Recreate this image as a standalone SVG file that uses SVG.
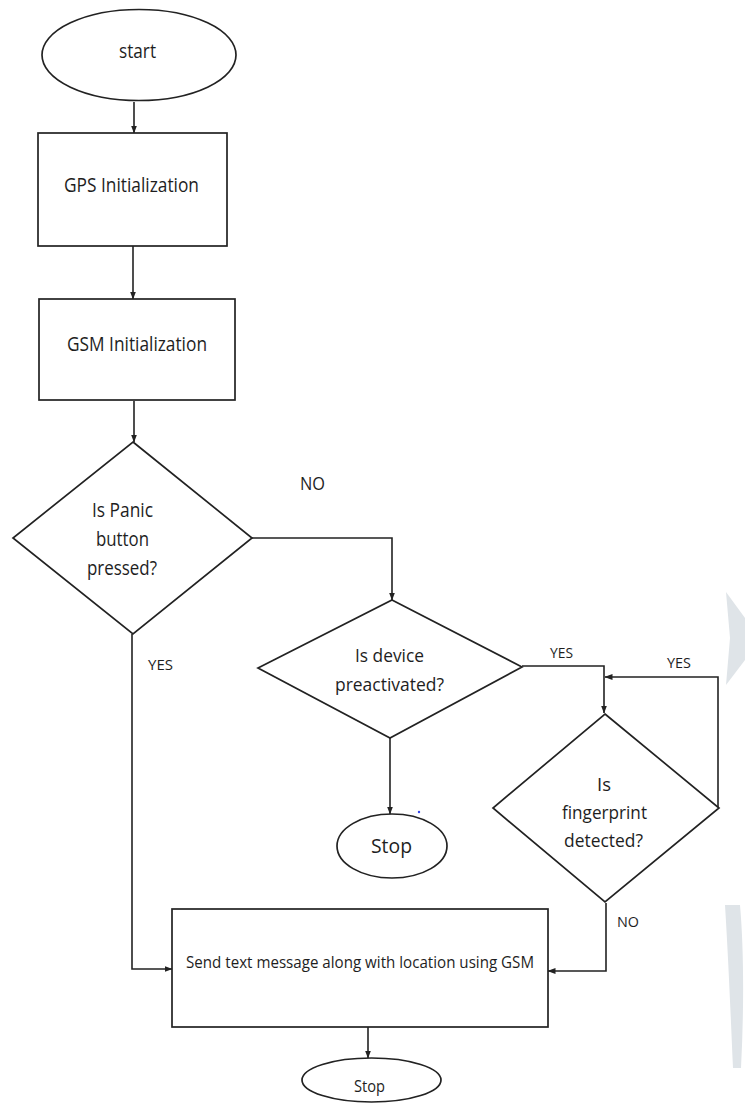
<svg xmlns="http://www.w3.org/2000/svg" width="745" height="1108" viewBox="0 0 745 1108">
<style>
.shape{fill:#ffffff;stroke:#222222;stroke-width:1.7}
.conn{fill:none;stroke:#222222;stroke-width:1.6}
.t{font-family:"Open Sans","Noto Sans","DejaVu Sans",sans-serif;fill:#1e1e1e}
.wm{fill:#dfe4e8;stroke:none}
</style>
<defs>
<marker id="arr" markerUnits="userSpaceOnUse" markerWidth="8" markerHeight="8" viewBox="0 0 8 8" refX="7.5" refY="4" orient="auto">
<path d="M0,1 L8,4 L0,7 Z" fill="#222222"/>
</marker>
</defs>
<rect x="0" y="0" width="745" height="1108" fill="#ffffff"/>
<g id="watermark">
<polygon class="wm" points="726,592 745,618 745,660 726,685 730,638"/>
<path class="wm" d="M725 905 C729 970 731 1025 733 1068 L741 1068 C744 1010 744 950 740 905 Z"/>
</g>
<g id="connectors">
<path class="conn" d="M134 102 V133" marker-end="url(#arr)"/>
<path class="conn" d="M133 246 V299" marker-end="url(#arr)"/>
<path class="conn" d="M134 401 V442" marker-end="url(#arr)"/>
<path class="conn" d="M252 538 H392 V600" marker-end="url(#arr)"/>
<path class="conn" d="M522 666 H604 V713" marker-end="url(#arr)"/>
<path class="conn" d="M718 808 V677 H605" marker-end="url(#arr)"/>
<path class="conn" d="M390 737 V814" marker-end="url(#arr)"/>
<path class="conn" d="M132 634 V969 H172" marker-end="url(#arr)"/>
<path class="conn" d="M606 903 V971 H548" marker-end="url(#arr)"/>
<path class="conn" d="M368 1027 V1058" marker-end="url(#arr)"/>
</g>
<g id="start">
<ellipse class="shape" cx="139" cy="55" rx="97" ry="45.5"/>
<text class="t" x="119" y="58" font-size="19.5" textLength="37" lengthAdjust="spacingAndGlyphs">start</text>
</g>
<g id="gps">
<rect class="shape" x="38" y="133" width="189" height="113"/>
<text class="t" x="64" y="192" font-size="20" textLength="135" lengthAdjust="spacingAndGlyphs">GPS Initialization</text>
</g>
<g id="gsm">
<rect class="shape" x="39" y="299" width="196" height="101"/>
<text class="t" x="67" y="351" font-size="20" textLength="140" lengthAdjust="spacingAndGlyphs">GSM Initialization</text>
</g>
<g id="panic">
<polygon class="shape" points="133,442 252,538 133,634 13,538"/>
<text class="t" x="92" y="517" font-size="20" textLength="61" lengthAdjust="spacingAndGlyphs">Is Panic</text>
<text class="t" x="96" y="546" font-size="20" textLength="53" lengthAdjust="spacingAndGlyphs">button</text>
<text class="t" x="87" y="575" font-size="20" textLength="70" lengthAdjust="spacingAndGlyphs">pressed?</text>
</g>
<g id="preactivated">
<polygon class="shape" points="392,600 522,667 390,738 258,668"/>
<text class="t" x="355" y="662" font-size="19" textLength="69" lengthAdjust="spacingAndGlyphs">Is device</text>
<text class="t" x="335" y="691" font-size="19" textLength="109" lengthAdjust="spacingAndGlyphs">preactivated?</text>
</g>
<g id="fingerprint">
<polygon class="shape" points="605,714 719,808 605,902 493,808"/>
<text class="t" x="597" y="791" font-size="19" textLength="14" lengthAdjust="spacingAndGlyphs">Is</text>
<text class="t" x="562" y="819" font-size="19" textLength="85" lengthAdjust="spacingAndGlyphs">fingerprint</text>
<text class="t" x="564" y="847" font-size="19" textLength="79" lengthAdjust="spacingAndGlyphs">detected?</text>
</g>
<g id="stop1">
<ellipse class="shape" cx="392" cy="846" rx="55" ry="32"/>
<text class="t" x="371" y="853" font-size="19.5" textLength="41" lengthAdjust="spacingAndGlyphs">Stop</text>
</g>
<g id="send">
<rect class="shape" x="172" y="909" width="376" height="118"/>
<text class="t" x="186" y="968" font-size="17" textLength="348" lengthAdjust="spacingAndGlyphs">Send text message along with location using GSM</text>
</g>
<g id="stop2">
<ellipse class="shape" cx="371.5" cy="1080" rx="69.5" ry="22"/>
<text class="t" x="354" y="1092" font-size="17" textLength="31" lengthAdjust="spacingAndGlyphs">Stop</text>
</g>
<g id="labels">
<text class="t" x="300" y="490" font-size="18.5" textLength="25" lengthAdjust="spacingAndGlyphs">NO</text>
<text class="t" x="148" y="670" font-size="15" textLength="25" lengthAdjust="spacingAndGlyphs">YES</text>
<text class="t" x="550" y="658" font-size="14.5" textLength="23" lengthAdjust="spacingAndGlyphs">YES</text>
<text class="t" x="667" y="668" font-size="14.5" textLength="24" lengthAdjust="spacingAndGlyphs">YES</text>
<text class="t" x="617" y="927" font-size="14" textLength="22" lengthAdjust="spacingAndGlyphs">NO</text>
</g>
<circle cx="419" cy="812" r="1.2" fill="#3344ee"/>
</svg>
